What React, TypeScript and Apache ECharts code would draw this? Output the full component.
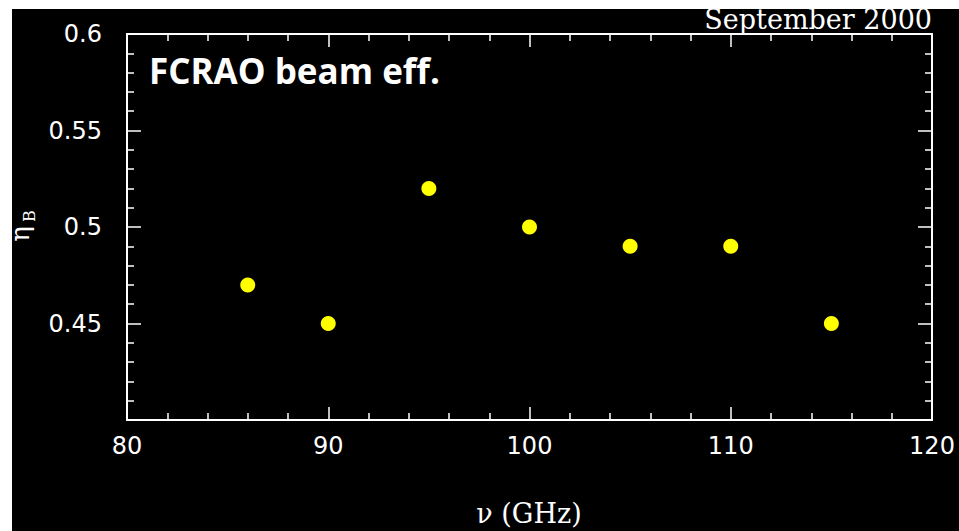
import React, { useEffect, useRef } from "react";
import * as echarts from "echarts";

const freqGHz = [86, 90, 95, 100, 105, 110, 115];
const beamEff = [0.47, 0.45, 0.52, 0.5, 0.49, 0.49, 0.45];
const xTicks = { min: 80, max: 120, interval: 10 };
const yTicks = { min: 0.4, max: 0.6, interval: 0.05 };
const titleText = "FCRAO beam eff.";
const dateText = "September 2000";
const xName = "ν (GHz)";

export default function App() {
  const ref = useRef<HTMLDivElement>(null);
  useEffect(() => {
    if (!ref.current) return;
    const chart = echarts.init(ref.current, undefined, { renderer: "svg" });
    const white = "#ffffff";
    const lbl = { color: white, fontFamily: "DejaVu Sans", fontSize: 24 };
    const baseAxis = {
      type: "value" as const,
      axisLine: { show: true, onZero: false, lineStyle: { color: white, width: 2 } },
      splitLine: { show: false },
    };
    const xTick = { show: true, inside: true, length: 13, lineStyle: { color: white, width: 1.5 } };
    const xMinor = { show: true, splitNumber: 5, length: 7, lineStyle: { color: white, width: 1.5 } };
    const yTick = { show: true, inside: true, length: 14, lineStyle: { color: white, width: 1.5 } };
    const yMinor = { show: true, splitNumber: 5, length: 7, lineStyle: { color: white, width: 1.5 } };
    chart.setOption({
      animation: false,
      backgroundColor: "#000000",
      grid: { left: 127, right: 27, top: 34, bottom: 111 },
      xAxis: [
        {
          ...baseAxis,
          ...xTicks,
          position: "bottom",
          axisTick: xTick,
          minorTick: xMinor,
          axisLabel: { ...lbl, margin: 14 },
        },
        {
          ...baseAxis,
          ...xTicks,
          position: "top",
          axisTick: xTick,
          minorTick: xMinor,
          axisLabel: { show: false },
        },
      ],
      yAxis: [
        {
          ...baseAxis,
          ...yTicks,
          position: "left",
          axisTick: yTick,
          minorTick: yMinor,
          axisLabel: {
            ...lbl,
            margin: 25,
            formatter: (v: number) => (Math.abs(v - yTicks.min) < 1e-9 ? "" : String(+v.toFixed(2))),
          },
        },
        {
          ...baseAxis,
          ...yTicks,
          position: "right",
          axisTick: yTick,
          minorTick: yMinor,
          axisLabel: { show: false },
        },
      ],
      series: [
        {
          type: "scatter",
          xAxisIndex: 0,
          yAxisIndex: 0,
          symbol: "circle",
          symbolSize: 15,
          itemStyle: { color: "#ffff00", opacity: 1 },
          data: freqGHz.map((f, i) => [f, beamEff[i]]),
        },
      ],
      graphic: [
        {
          type: "text",
          x: 149,
          y: 70,
          z: 50,
          style: {
            text: titleText,
            fill: white,
            fontFamily: "Open Sans",
            fontWeight: "bold",
            fontSize: 35,
            verticalAlign: "middle",
          },
        },
        {
          type: "text",
          x: 932,
          y: 19,
          z: 50,
          style: {
            text: dateText,
            fill: white,
            fontFamily: "DejaVu Serif",
            fontSize: 27,
            align: "right",
            verticalAlign: "middle",
          },
        },
        {
          type: "text",
          x: 529,
          y: 513,
          z: 50,
          style: {
            text: xName,
            fill: white,
            fontFamily: "DejaVu Serif",
            fontSize: 27,
            align: "center",
            verticalAlign: "middle",
          },
        },
        {
          type: "text",
          x: 20,
          y: 234,
          rotation: Math.PI / 2,
          z: 50,
          style: {
            text: "η",
            fill: white,
            fontFamily: "DejaVu Serif",
            fontSize: 26,
            align: "center",
            verticalAlign: "middle",
          },
        },
        {
          type: "text",
          x: 29,
          y: 216,
          rotation: Math.PI / 2,
          z: 50,
          style: {
            text: "B",
            fill: white,
            fontFamily: "DejaVu Serif",
            fontSize: 16,
            align: "center",
            verticalAlign: "middle",
          },
        },
        {
          type: "rect",
          z: 100,
          shape: { x: 0, y: 0, width: 959, height: 9 },
          style: { fill: white },
        },
        {
          type: "rect",
          z: 100,
          shape: { x: 0, y: 0, width: 12, height: 531 },
          style: { fill: white },
        },
      ],
    });
    return () => chart.dispose();
  }, []);
  return (
    <div
      ref={ref}
      style={{ position: "absolute", left: 0, top: 0, width: 959, height: 531 }}
    />
  );
}
